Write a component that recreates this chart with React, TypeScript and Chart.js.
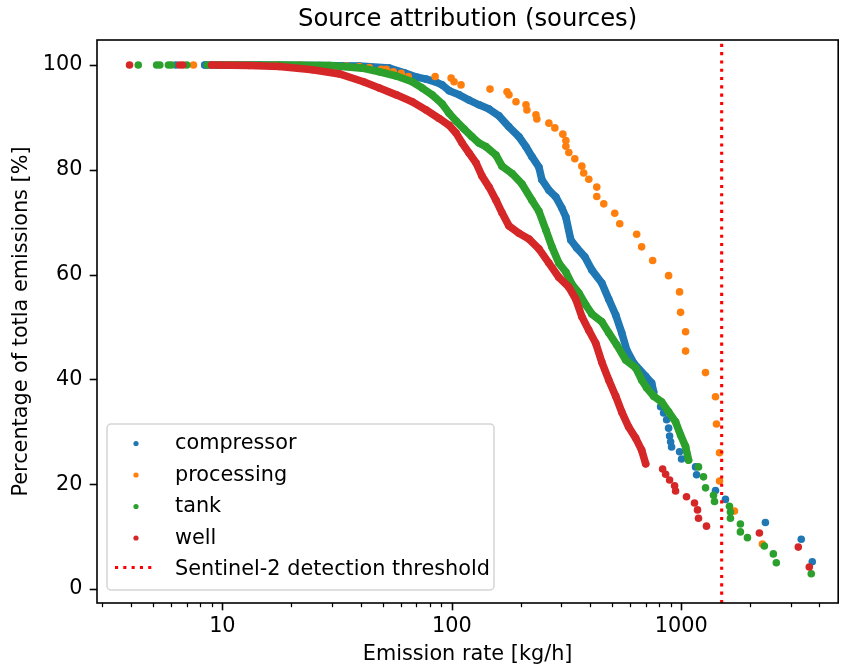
import React, { useEffect, useRef } from "react";
import { Chart, registerables } from "chart.js";

Chart.register(...registerables);

const FONT = '"DejaVu Sans", sans-serif';

// ---- series names / colours ----
const seriesNames = ["compressor", "processing", "tank", "well"];
const seriesColors = ["#1f77b4", "#ff7f0e", "#2ca02c", "#d62728"];
const thresholdLabel = "Sentinel-2 detection threshold";
const thresholdValue = 1500;

// ---- compressor ----
const compressorRunX = [8.38, 14.5, 26.5, 39.5, 53.4, 62.1, 70.0, 77.3, 84.6, 90.7, 97.3, 107.6, 118.9, 131.4, 145.3, 160.5, 177.4, 196.2, 210.5, 223.5, 239.7, 247.0, 265.0, 284.1, 301.7, 314.0, 330.1, 350.5, 379.8, 407.5, 450.4, 483.0, 518.0, 550.1, 578.4, 620.3, 699.6, 742.9, 758.0];
const compressorRunY = [100, 100, 99.9, 99.8, 99.4, 98.5, 97.7, 97.3, 96.8, 96.2, 95.1, 94.3, 93.3, 92.4, 91.6, 90.3, 88.2, 86.3, 84.4, 82.5, 80.5, 78.1, 76.1, 74.8, 72.7, 71.0, 66.6, 65.1, 63.4, 60.9, 58.4, 55.3, 52.3, 48.9, 45.6, 43.1, 40.6, 39.3, 37.6];
const compressorDotX = [6.27, 812.8, 837.5, 863.3, 880.7, 889.5, 898.5, 907.4, 983.1, 1003, 1154, 1166, 1410, 1558, 2326, 3334, 3723];
const compressorDotY = [100, 34.8, 33.6, 32.3, 30.7, 29.2, 28.1, 27.1, 26.2, 24.8, 23.3, 21.8, 18.8, 17.1, 12.7, 9.5, 5.2];

// ---- processing ----
const processingX = [7.48, 16.7, 21.7, 29.3, 34.7, 39.5, 43.7, 49.3, 51.8, 55.6, 60.2, 64.6, 84.6, 99.3, 102.3, 109.7, 146.7, 174, 177.5, 190.4, 210.5, 212.5, 232.6, 234.8, 264.9, 281.2, 304.7, 314.1, 314.1, 323.6, 343.6, 368.7, 375.6, 395.3, 428.3, 428.3, 459.4, 512.9, 539.3, 639.2, 671.9, 750.3, 880.6, 983, 993, 1044, 1044, 1275, 1410, 1424, 1468, 1468, 1705, 2257];
const processingY = [100, 100, 100, 99.8, 99.8, 99.7, 99.5, 99.2, 99.2, 98.7, 98.4, 97.8, 97.8, 97.5, 96.8, 96.2, 95.4, 94.9, 94.3, 93.0, 92.4, 91.4, 90.5, 89.7, 88.9, 88.0, 86.8, 85.6, 84.5, 83.3, 82.1, 80.7, 79.4, 78.2, 76.7, 74.9, 73.5, 71.7, 69.7, 67.7, 65.3, 62.7, 59.8, 56.7, 52.8, 49.1, 45.4, 41.3, 36.7, 31.5, 26.0, 20.6, 14.9, 8.6];

// ---- tank ----
const tankRunX = [9.45, 17.7, 29.3, 40.7, 48.3, 57.3, 67.2, 74.3, 82.1, 90.7, 97.3, 104.4, 113.1, 122.5, 131.4, 141.0, 155.8, 165.5, 182.9, 202.2, 223.5, 239.7, 257.0, 273.0, 292.7, 314.0, 333.4, 357.7, 383.6, 407.4, 450.4, 483.0, 523.2, 572.6, 632.8, 672.0, 706.5, 758.0, 821.1, 880.7, 944.5, 993, 1044, 1076];
const tankRunY = [100, 100, 99.9, 99.4, 98.7, 97.9, 96.8, 95.6, 94.3, 92.6, 90.8, 89.3, 87.8, 86.3, 85.1, 84.4, 82.8, 80.7, 79.3, 77.3, 74.2, 72.1, 68.5, 65.3, 62.2, 60.5, 58.2, 56.5, 54.2, 52.5, 51.0, 48.9, 46.6, 43.7, 42.2, 39.9, 38.4, 36.8, 35.7, 33.8, 31.9, 29.4, 27.2, 24.6];
const tankDotX = [4.3, 5.17, 5.34, 5.82, 6.0, 7.0, 8.6, 1189, 1250, 1276, 1382, 1396, 1622, 1638, 1638, 1810, 1810, 1943, 2302, 2519, 2596, 3686];
const tankDotY = [100, 100, 100, 100, 100, 100, 100, 23.3, 21.4, 19.3, 17.9, 16.7, 15.8, 14.7, 13.5, 12.4, 10.9, 9.8, 8.2, 6.7, 5.0, 2.9];

// ---- well ----
const wellRunX = [8.98, 13.1, 17.7, 24.7, 32.4, 41.2, 48.3, 57.3, 67.2, 77.3, 88.1, 97.3, 104.4, 110.9, 118.9, 127.6, 135.4, 145.3, 155.8, 165.5, 177.4, 196.2, 216.8, 239.7, 265.0, 292.7, 323.6, 347.1, 368.6, 395.4, 424.0, 450.4, 483.0, 518.0, 550.1, 590.0, 632.8, 672.0, 699.6];
const wellRunY = [100, 99.9, 99.7, 99.1, 98.3, 96.8, 95.6, 94.3, 93.0, 91.4, 89.8, 88.5, 87.0, 85.1, 83.2, 81.3, 78.8, 76.7, 74.2, 71.8, 69.3, 67.9, 66.8, 64.9, 62.2, 59.5, 57.6, 55.3, 52.0, 49.4, 46.9, 43.3, 39.9, 36.8, 33.8, 30.9, 28.8, 26.5, 23.9];
const wellDotX = [3.94, 6.5, 6.72, 829.4, 854.7, 889.5, 935.2, 944.5, 1054, 1142, 1177, 1189, 1288, 2190, 3236, 3613];
const wellDotY = [100, 100, 100, 22.9, 21.9, 20.8, 19.7, 18.7, 17.6, 16.4, 15.1, 13.5, 12.0, 10.7, 8.0, 4.2];

// ---- axes ----
const xMin = 2.842;
const xMax = 4830;
const yMin = -2.67;
const yMax = 104.77;
const xMajorTicks = [10, 100, 1000];
const xMinorTicks = [3, 4, 5, 6, 7, 8, 9, 20, 30, 40, 50, 60, 70, 80, 90, 200, 300, 400, 500, 600, 700, 800, 900, 2000, 3000, 4000];
const yTicks = [0, 20, 40, 60, 80, 100];

const titleText = "Source attribution (sources)";
const xLabelText = "Emission rate [kg/h]";
const yLabelText = "Percentage of totla emissions [%]";

const pts = (xs: number[], ys: number[]) => xs.map((x, i) => ({ x, y: ys[i] }));

const R = 3.8;
function dots(label: string, color: string, xs: number[], ys: number[], order: number) {
  return {
    label,
    data: pts(xs, ys),
    backgroundColor: color,
    borderColor: color,
    pointRadius: R,
    pointHoverRadius: R,
    pointBorderWidth: 0,
    showLine: false,
    order,
  };
}
function run(label: string, color: string, xs: number[], ys: number[], order: number) {
  return {
    ...dots(label, color, xs, ys, order),
    showLine: true,
    borderWidth: R * 2,
    borderJoinStyle: "round",
    borderCapStyle: "round",
    fill: false,
    tension: 0,
  };
}

const decorPlugin = {
  id: "decor",
  afterDatasetsDraw(chart: any) {
    const { ctx, chartArea, scales } = chart;
    const { left, right, top, bottom } = chartArea;
    const xs = scales.x;
    const ys = scales.y;
    ctx.save();
    ctx.strokeStyle = "#000";
    // x ticks
    ctx.lineWidth = 1.6;
    xMajorTicks.forEach((v) => {
      const p = Math.round(xs.getPixelForValue(v)) + 0.5;
      ctx.beginPath();
      ctx.moveTo(p, bottom);
      ctx.lineTo(p, bottom + 7.3);
      ctx.stroke();
    });
    ctx.lineWidth = 1.25;
    xMinorTicks.forEach((v) => {
      const p = Math.round(xs.getPixelForValue(v)) + 0.5;
      ctx.beginPath();
      ctx.moveTo(p, bottom);
      ctx.lineTo(p, bottom + 4.2);
      ctx.stroke();
    });
    ctx.lineWidth = 1.6;
    yTicks.forEach((v) => {
      const p = Math.round(ys.getPixelForValue(v)) + 0.5;
      ctx.beginPath();
      ctx.moveTo(left - 7.3, p);
      ctx.lineTo(left, p);
      ctx.stroke();
    });
    // spines
    ctx.lineWidth = 1.6;
    ctx.strokeRect(left, top, right - left, bottom - top);

    // legend
    const bx = 107, by = 424, bw = 387, bh = 166, rr = 4;
    ctx.beginPath();
    ctx.moveTo(bx + rr, by);
    ctx.arcTo(bx + bw, by, bx + bw, by + bh, rr);
    ctx.arcTo(bx + bw, by + bh, bx, by + bh, rr);
    ctx.arcTo(bx, by + bh, bx, by, rr);
    ctx.arcTo(bx, by, bx + bw, by, rr);
    ctx.closePath();
    ctx.fillStyle = "rgba(255,255,255,0.8)";
    ctx.fill();
    ctx.strokeStyle = "rgba(204,204,204,0.85)";
    ctx.lineWidth = 1.5;
    ctx.stroke();

    ctx.font = `20.8px ${FONT}`;
    ctx.textAlign = "left";
    ctx.textBaseline = "alphabetic";
    const baselines = [449, 480.5, 512, 543.5, 575];
    seriesNames.forEach((name, i) => {
      ctx.fillStyle = seriesColors[i];
      ctx.beginPath();
      ctx.arc(136, baselines[i] - 5.5, 2.6, 0, Math.PI * 2);
      ctx.fill();
      ctx.fillStyle = "#000";
      ctx.fillText(name, 175, baselines[i]);
    });
    ctx.strokeStyle = "#ff0000";
    ctx.lineWidth = 3.1;
    ctx.setLineDash([3.1, 5.2]);
    ctx.beginPath();
    ctx.moveTo(115, baselines[4] - 7.5);
    ctx.lineTo(156, baselines[4] - 7.5);
    ctx.stroke();
    ctx.setLineDash([]);
    ctx.fillStyle = "#000";
    ctx.fillText(thresholdLabel, 175, baselines[4]);

    // title & axis labels
    const cx = (left + right) / 2;
    ctx.textAlign = "center";
    ctx.font = `24.3px ${FONT}`;
    ctx.fillText(titleText, cx, 26);
    ctx.font = `20.8px ${FONT}`;
    ctx.fillText(xLabelText, cx, 660);
    ctx.translate(27, (top + bottom) / 2);
    ctx.rotate(-Math.PI / 2);
    ctx.fillText(yLabelText, 0, 0);
    ctx.restore();
  },
};

export default function App() {
  const ref = useRef<HTMLCanvasElement>(null);
  useEffect(() => {
    if (!ref.current) return;
    const datasets: any[] = [
      run(seriesNames[0], seriesColors[0], compressorRunX, compressorRunY, 4),
      dots(seriesNames[0], seriesColors[0], compressorDotX, compressorDotY, 4),
      dots(seriesNames[1], seriesColors[1], processingX, processingY, 3),
      run(seriesNames[2], seriesColors[2], tankRunX, tankRunY, 2),
      dots(seriesNames[2], seriesColors[2], tankDotX, tankDotY, 2),
      run(seriesNames[3], seriesColors[3], wellRunX, wellRunY, 1),
      dots(seriesNames[3], seriesColors[3], wellDotX, wellDotY, 1),
      {
        label: thresholdLabel,
        data: [
          { x: thresholdValue, y: yMin },
          { x: thresholdValue, y: yMax },
        ],
        showLine: true,
        borderColor: "#ff0000",
        borderWidth: 3.1,
        borderDash: [3.1, 5.2],
        borderCapStyle: "butt",
        pointRadius: 0,
        pointHoverRadius: 0,
        order: 0,
      },
    ];
    const chart = new Chart(ref.current, {
      type: "scatter",
      data: { datasets },
      options: {
        animation: false,
        responsive: false,
        devicePixelRatio: 1,
        events: [],
        layout: { padding: { left: 0, top: 40, right: 2, bottom: 0 } },
        plugins: {
          legend: { display: false },
          title: { display: false },
          tooltip: { enabled: false },
        },
        scales: {
          x: {
            type: "logarithmic",
            min: xMin,
            max: xMax,
            grid: { display: false, drawTicks: false, tickLength: 0 },
            border: { display: false },
            afterBuildTicks: (s: any) => {
              s.ticks = [...xMinorTicks, ...xMajorTicks]
                .sort((a, b) => a - b)
                .map((v) => ({ value: v, major: xMajorTicks.includes(v) }));
            },
            afterFit: (s: any) => {
              s.height = 65;
            },
            ticks: {
              autoSkip: false,
              maxRotation: 0,
              minRotation: 0,
              padding: 11.5,
              color: "#000",
              font: { family: FONT, size: 20.8 },
              callback: (v: any) => (xMajorTicks.includes(Number(v)) ? String(v) : ""),
            },
          },
          y: {
            type: "linear",
            min: yMin,
            max: yMax,
            grid: { display: false, drawTicks: false, tickLength: 0 },
            border: { display: false },
            afterBuildTicks: (s: any) => {
              s.ticks = yTicks.map((v) => ({ value: v }));
            },
            afterFit: (s: any) => {
              s.width = 97;
            },
            ticks: {
              padding: 14.5,
              color: "#000",
              font: { family: FONT, size: 20.8 },
              callback: (v: any) => String(v),
            },
          },
        },
      },
      plugins: [decorPlugin],
    } as any);
    return () => chart.destroy();
  }, []);
  return (
    <div style={{ position: "absolute", left: 0, top: 0, width: 842, height: 668, background: "#fff" }}>
      <canvas ref={ref} width={842} height={668} style={{ display: "block", width: 842, height: 668 }} />
    </div>
  );
}
